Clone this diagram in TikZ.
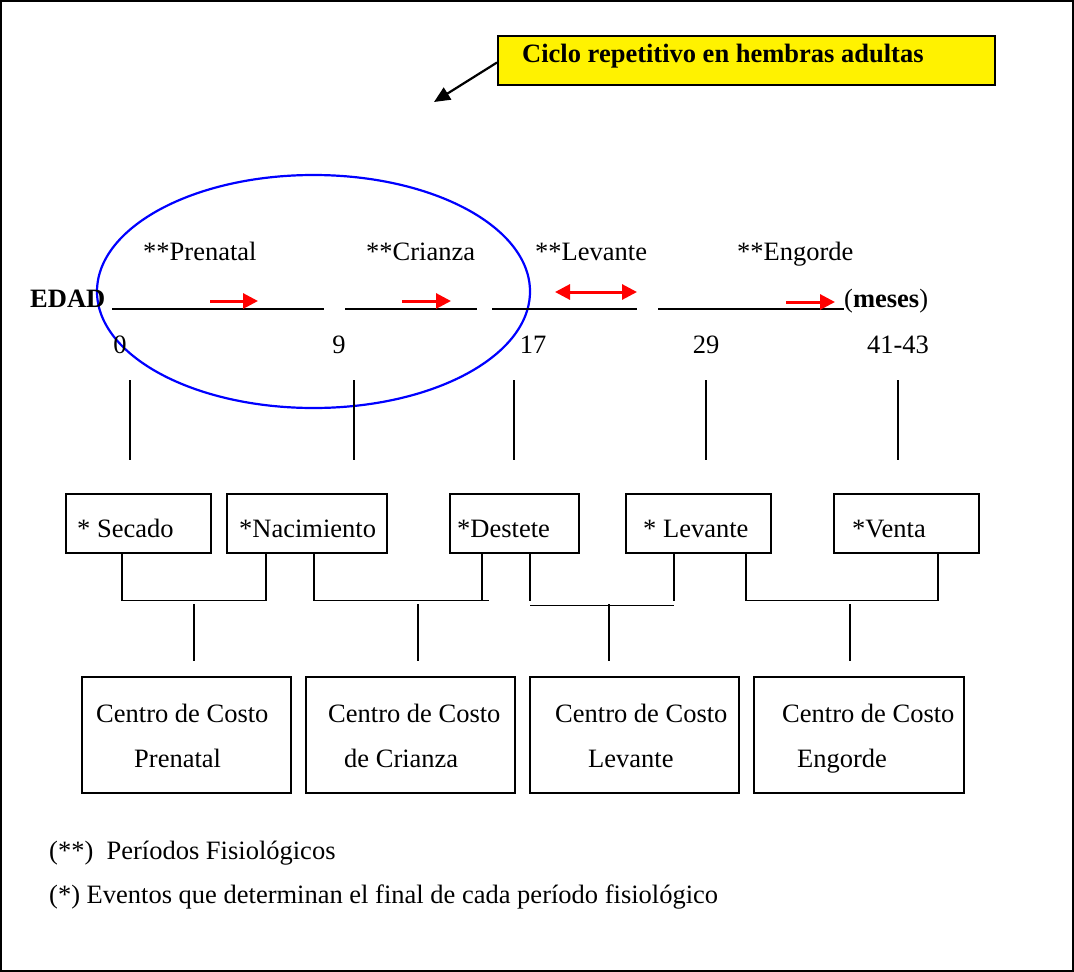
\documentclass[tikz,border=0pt]{standalone}
\usepackage{fontspec}
\setmainfont{Liberation Serif}
\usetikzlibrary{arrows.meta,calc,shapes.geometric}
\begin{document}
\begin{tikzpicture}[x=1pt,y=-1pt,
  txt/.style={inner sep=0pt, font=\fontsize{26.5}{31}\selectfont},
  boldtxt/.style={inner sep=0pt, font=\fontsize{26.5}{31}\selectfont\bfseries},
  evbox/.style={draw, line width=1.6pt, inner sep=0pt, anchor=north west, minimum height=59pt},
  costbox/.style={draw, line width=1.6pt, inner sep=0pt, anchor=north west, minimum height=116pt},
  conn/.style={line width=1.6pt},
  tline/.style={line width=1.6pt},
  redarr/.style={red, line width=3pt, -{Triangle[length=15pt,width=15pt]}},
  redboth/.style={red, line width=3pt, {Triangle[length=15pt,width=15pt]}-{Triangle[length=15pt,width=15pt]}},
]
\useasboundingbox (0,0) rectangle (1074,972);
\draw[line width=2pt] (1,1) rectangle (1073,971);

% title box
\node[draw, line width=2pt, fill=yellow, inner sep=0pt, anchor=north west,
      minimum width=497pt, minimum height=49pt] (title) at (497,35) {};
\node[boldtxt, anchor=base west] (titletxt) at (522,62) {Ciclo repetitivo en hembras adultas};
\coordinate (tip) at (434,102);
\draw[line width=2.2pt, -{Triangle[length=16pt,width=14pt]}] ($(title.west)+(0,2)$) -- (tip);

% ellipse
\node[ellipse, draw=blue, line width=2.2pt, inner sep=0pt, minimum width=433pt, minimum height=233pt] (ciclo) at (313.5,291.5) {};

% period labels
\node[txt, anchor=base west] (pPren) at (143,260) {**Prenatal};
\node[txt, anchor=base west] (pCria) at (366,260) {**Crianza};
\node[txt, anchor=base west] (pLev) at (535,260) {**Levante};
\node[txt, anchor=base west] (pEng) at (737,260) {**Engorde};

% EDAD line
\node[boldtxt, anchor=base west] (edad) at (30,307) {EDAD};
\node[txt, anchor=base west] (meses) at (844,307) {(\textbf{meses})};
\coordinate (l1a) at (112,309); \coordinate (l1b) at (324,309);
\coordinate (l2a) at (345,309); \coordinate (l2b) at (477,309);
\coordinate (l3a) at (492,309); \coordinate (l3b) at (637,309);
\coordinate (l4a) at (658,309); \coordinate (l4b) at (844,309);
\draw[tline] (l1a) -- (l1b);
\draw[tline] (l2a) -- (l2b);
\draw[tline] (l3a) -- (l3b);
\draw[tline] (l4a) -- (l4b);

% red arrows
\coordinate (r1a) at (210,301); \coordinate (r1b) at (258,301);
\coordinate (r2a) at (402,301); \coordinate (r2b) at (451,301);
\coordinate (r3a) at (555,292); \coordinate (r3b) at (637,292);
\coordinate (r4a) at (786,302); \coordinate (r4b) at (835,302);
\draw[redarr] (r1a) -- (r1b);
\draw[redarr] (r2a) -- (r2b);
\draw[redboth] (r3a) -- (r3b);
\draw[redarr] (r4a) -- (r4b);

% ages
\node[txt, anchor=base] (a0) at (120,353) {0};
\node[txt, anchor=base] (a9) at (339,353) {9};
\node[txt, anchor=base] (a17) at (533,353) {17};
\node[txt, anchor=base] (a29) at (706,353) {29};
\node[txt, anchor=base] (a41) at (898,353) {41-43};

% ticks
\foreach \x/\n in {130/t0,354/t9,514/t17,706/t29,898/t41}{
  \coordinate (\n a) at (\x,380);
  \coordinate (\n b) at (\x,460);
  \draw[conn] (\n a) -- (\n b);
}

% event boxes
\node[evbox, minimum width=145pt] (secado) at (65,493) {};
\node[evbox, minimum width=160pt] (nacim) at (226,493) {};
\node[evbox, minimum width=129pt] (destete) at (449,493) {};
\node[evbox, minimum width=145pt] (levante) at (625,493) {};
\node[evbox, minimum width=145pt] (venta) at (833,493) {};
\node[txt, anchor=base west] (secadot) at (77,537) {* Secado};
\node[txt, anchor=base west] (nacimt) at (239,537) {*Nacimiento};
\node[txt, anchor=base west] (destetet) at (457,537) {*Destete};
\node[txt, anchor=base west] (levantet) at (643,537) {* Levante};
\node[txt, anchor=base west] (ventat) at (852,537) {*Venta};

% cost boxes
\node[costbox, minimum width=209pt] (cost1) at (81,676) {};
\node[costbox, minimum width=209pt] (cost2) at (305,676) {};
\node[costbox, minimum width=209pt] (cost3) at (529,676) {};
\node[costbox, minimum width=210pt] (cost4) at (753,676) {};
\node[txt, anchor=base west] (c1a) at (96,722) {Centro de Costo};
\node[txt, anchor=base west] (c1b) at (134,767) {Prenatal};
\node[txt, anchor=base west] (c2a) at (328,722) {Centro de Costo};
\node[txt, anchor=base west] (c2b) at (344,767) {de Crianza};
\node[txt, anchor=base west] (c3a) at (555,722) {Centro de Costo};
\node[txt, anchor=base west] (c3b) at (588,767) {Levante};
\node[txt, anchor=base west] (c4a) at (782,722) {Centro de Costo};
\node[txt, anchor=base west] (c4b) at (797,767) {Engorde};

% brackets
\draw[conn] ($(secado.south west)+(57,0)$) |- ($(nacim.south west)+(40,47)$) -- ($(nacim.south west)+(40,0)$);
\draw[conn] ($(cost1.north west)+(113,-72)$) -- ($(cost1.north west)+(113,-15)$);

\draw[conn] ($(nacim.south west)+(88,0)$) |- ($(destete.south west)+(40,47)$);
\draw[conn] ($(destete.south west)+(33,0)$) -- ($(destete.south west)+(33,47)$);
\draw[conn] ($(cost2.north west)+(113,-72)$) -- ($(cost2.north west)+(113,-15)$);

\draw[conn] ($(destete.south west)+(81,0)$) -- ($(destete.south west)+(81,47)$);
\draw[conn] ($(destete.south west)+(81,52)$) -- ($(levante.south west)+(49,52)$);
\draw[conn] ($(levante.south west)+(49,0)$) -- ($(levante.south west)+(49,47)$);
\draw[conn] ($(cost3.north west)+(80,-72)$) -- ($(cost3.north west)+(80,-15)$);

\draw[conn] ($(levante.south west)+(121,0)$) |- ($(venta.south west)+(105,47)$) -- ($(venta.south west)+(105,0)$);
\draw[conn] ($(cost4.north west)+(97,-72)$) -- ($(cost4.north west)+(97,-15)$);

% footnotes
\node[txt, anchor=base west] (f1) at (49,859) {(**)\ \ Períodos Fisiológicos};
\node[txt, anchor=base west] (f2) at (49,903) {(*) Eventos que determinan el final de cada período fisiológico};
\end{tikzpicture}
\end{document}
